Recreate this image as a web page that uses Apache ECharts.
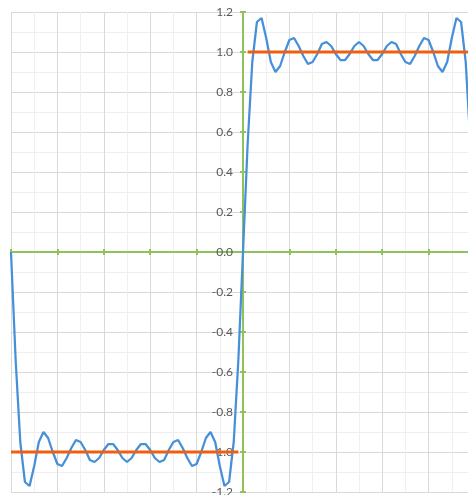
<!DOCTYPE html>
<html>
<head>
<meta charset="utf-8">
<script src="https://cdn.jsdelivr.net/npm/echarts@6/dist/echarts.min.js"></script>
<style>html,body{margin:0;padding:0;background:#fff;}#c{width:468px;height:495px;}</style>
</head>
<body>
<div id="c"></div>
<script>
// sample positions
var xs = [-1,-0.98,-0.96,-0.94,-0.92,-0.9,-0.88,-0.86,-0.84,-0.82,-0.8,-0.78,-0.76,-0.74,-0.72,-0.7,-0.68,-0.66,-0.64,-0.62,
  -0.6,-0.58,-0.56,-0.54,-0.52,-0.5,-0.48,-0.46,-0.44,-0.42,-0.4,-0.38,-0.36,-0.34,-0.32,-0.3,-0.28,-0.26,-0.24,-0.22,
  -0.2,-0.18,-0.16,-0.14,-0.12,-0.1,-0.08,-0.06,-0.04,-0.02,0,
  0.02,0.04,0.06,0.08,0.1,0.12,0.14,0.16,0.18,0.2,0.22,0.24,0.26,0.28,0.3,0.32,0.34,0.36,0.38,0.4,
  0.42,0.44,0.46,0.48,0.5,0.52,0.54,0.56,0.58,0.6,0.62,0.64,0.66,0.68,0.7,0.72,0.74,0.76,0.78,0.8,
  0.82,0.84,0.86,0.88,0.9,0.92,0.94,0.96,0.98,1];
// approximation curve
var approxValues = [0,-0.54,-0.95,-1.15,-1.17,-1.07,-0.95,-0.90,-0.93,-1.00,-1.06,-1.07,-1.03,-0.98,-0.94,-0.95,-0.99,-1.04,-1.05,-1.03,
  -0.99,-0.96,-0.96,-0.99,-1.03,-1.05,-1.03,-0.99,-0.96,-0.96,-0.99,-1.03,-1.05,-1.04,-0.99,-0.95,-0.94,-0.98,-1.03,-1.07,
  -1.06,-1.00,-0.93,-0.90,-0.95,-1.07,-1.17,-1.15,-0.95,-0.54,0,
  0.54,0.95,1.15,1.17,1.07,0.95,0.90,0.93,1.00,1.06,1.07,1.03,0.98,0.94,0.95,0.99,1.04,1.05,1.03,0.99,
  0.96,0.96,0.99,1.03,1.05,1.03,0.99,0.96,0.96,0.99,1.03,1.05,1.04,0.99,0.95,0.94,0.98,1.03,1.07,1.06,
  1.00,0.93,0.90,0.95,1.07,1.17,1.15,0.95,0.54,0];
// square wave target
var stepX = [-1,-0.02,null,0.02,1];
var stepY = [-1,-1,null,1,1];
var yTicks = {min:-1.2, max:1.2, interval:0.2};
var xTicks = {min:-1, max:1, interval:0.2};

function pairs(a,b){var r=[];for(var i=0;i<a.length;i++){r.push(a[i]===null?[null,null]:[a[i],b[i]]);}return r;}

var green = '#8DC25C';
var G = {left:11, top:12, width:464, height:480};
var zeroXOffset = -G.width * (0 - xTicks.min) / (xTicks.max - xTicks.min);   // move left axis to x = 0
var zeroYOffset = -G.height * (0 - yTicks.min) / (yTicks.max - yTicks.min);  // move bottom axis to y = 0
var chart = echarts.init(document.getElementById('c'));
chart.setOption({
  animation:false,
  grid:{left:G.left, top:G.top, width:G.width, height:G.height, containLabel:false, outerBoundsMode:'none'},
  xAxis:[{type:'value', min:xTicks.min, max:xTicks.max, interval:xTicks.interval,
      axisLine:{onZero:true, lineStyle:{color:green, width:2}},
      axisTick:{show:true, inside:false, length:3, lineStyle:{color:green, width:2}},
      axisLabel:{show:false},
      splitLine:{show:true, lineStyle:{color:'#D9D9D9', width:1}},
      minorTick:{show:false, splitNumber:2},
      minorSplitLine:{show:true, lineStyle:{color:'#EFEFEF', width:1}}
    },{type:'value', min:xTicks.min, max:xTicks.max, interval:xTicks.interval, position:'bottom', offset:zeroYOffset,
      axisLine:{show:false, onZero:false},
      axisTick:{show:true, inside:true, length:3, lineStyle:{color:green, width:2}},
      axisLabel:{show:false}, splitLine:{show:false}
  }],
  yAxis:[{type:'value', min:yTicks.min, max:yTicks.max, interval:yTicks.interval,
      axisLine:{show:true, onZero:true, lineStyle:{color:green, width:2}},
      axisTick:{show:true, inside:false, length:3, lineStyle:{color:green, width:2}},
      axisLabel:{show:false},
      splitLine:{show:true, lineStyle:{color:'#D9D9D9', width:1}},
      minorTick:{show:false, splitNumber:2},
      minorSplitLine:{show:true, lineStyle:{color:'#EFEFEF', width:1}}
    },{type:'value', min:yTicks.min, max:yTicks.max, interval:yTicks.interval, position:'left', offset:zeroXOffset,
      axisLine:{show:false, onZero:false},
      axisTick:{show:true, inside:true, length:3, lineStyle:{color:green, width:2}},
      axisLabel:{show:true, color:'#595959', fontSize:12, fontFamily:'Lato, "Open Sans", sans-serif', margin:10,
        formatter:function(v){return v.toFixed(1);}},
      splitLine:{show:false}
  }],
  series:[
    {type:'line', xAxisIndex:0, yAxisIndex:0, data:pairs(xs, approxValues), showSymbol:false, smooth:false,
      lineStyle:{color:'#4590D8', width:2.25}, itemStyle:{color:'#4590D8'}, z:3},
    {type:'line', xAxisIndex:0, yAxisIndex:0, data:pairs(stepX, stepY), showSymbol:false, connectNulls:false,
      lineStyle:{color:'#EE6010', width:3}, itemStyle:{color:'#EE6010'}, z:4}
  ]
});
</script>
</body>
</html>
